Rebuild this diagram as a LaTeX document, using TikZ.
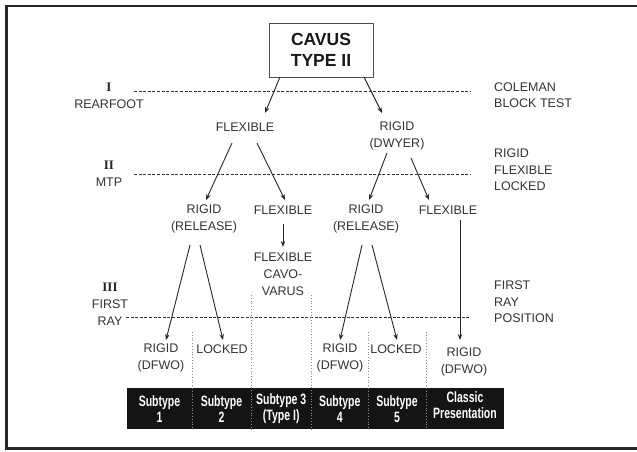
\documentclass[tikz,border=0pt]{standalone}
\usepackage{fontspec}
\setmainfont{Liberation Sans}
\newfontfamily\romfont{Liberation Serif}
\newfontfamily\condfont[FakeStretch=0.7]{Liberation Sans}
\usetikzlibrary{calc,arrows.meta}
\tikzset{
  lbl/.style={inner sep=0pt, align=center, text=black!80, font=\fontsize{12.5}{17}\selectfont},
  rlbl/.style={inner sep=0pt, align=left, anchor=west, text=black!80, font=\fontsize{12.5}{16.5}\selectfont},
  numl/.style={inner sep=0pt, text=black!85, font=\romfont\bfseries\fontsize{13}{15}\selectfont},
  arr/.style={draw=black!85, line width=0.9pt, -{Stealth[length=6pt,width=4.5pt]}},
  dline/.style={draw=black!80, line width=0.9pt, dash pattern=on 3pt off 1.6pt},
  divline/.style={draw=black!45, line width=0.8pt, dotted},
  cell/.style={inner sep=0pt, align=center, text=white, font=\condfont\bfseries\fontsize{15}{16}\selectfont},
  mainbox/.style={draw=black!70, line width=0.8pt, minimum width=104pt, minimum height=54pt, inner sep=0pt, align=center, font=\bfseries\fontsize{17.5}{21}\selectfont, text=black!90}
}
\begin{document}
\begin{tikzpicture}[x=1pt,y=-1pt]
\useasboundingbox (0,0) rectangle (637,451);
% frame
\draw[line width=2.4pt, black!85] (637,6) -- (6.5,6) -- (6.5,448.5) -- (637,448.5);

% dashed level lines
\draw[dline] (134,91) -- (470,91);
\draw[dline] (134,174) -- (470,174);
\draw[dline] (126,317) -- (470,317);

% level labels (left)
\node[numl] (nI) at (109,87) {I};
\node[lbl] (lRear) at (109,104) {REARFOOT};
\node[numl] (nII) at (109,165) {II};
\node[lbl] (lMtp) at (109,182) {MTP};
\node[numl] (nIII) at (110,287) {III};
\node[lbl] (lFirst) at (110,312.5) {FIRST\\RAY};

% right labels
\node[rlbl] (rCol) at (494,95) {COLEMAN\\BLOCK TEST};
\node[rlbl] (rRfl) at (494,170) {RIGID\\FLEXIBLE\\LOCKED};
\node[rlbl] (rFrp) at (494,302) {FIRST\\RAY\\POSITION};

% main box
\node[mainbox, fill=white] (box) at (321,50) {CAVUS\\TYPE II};

% tree nodes
\node[lbl] (flexA) at (245,127) {FLEXIBLE};
\node[lbl] (rigD) at (397,136) {RIGID\\(DWYER)};
\node[lbl] (relL) at (204,219) {RIGID\\(RELEASE)};
\node[lbl] (flexB) at (283,210) {FLEXIBLE};
\node[lbl] (relR) at (366,219) {RIGID\\(RELEASE)};
\node[lbl] (flexC) at (448,210) {FLEXIBLE};
\node[lbl] (cavo) at (283,274) {FLEXIBLE\\CAVO-\\VARUS};
\node[lbl] (dfwoA) at (161,357.5) {RIGID\\(DFWO)};
\node[lbl] (lockA) at (222,349) {LOCKED};
\node[lbl] (dfwoB) at (340,357.5) {RIGID\\(DFWO)};
\node[lbl] (lockB) at (396,349) {LOCKED};
\node[lbl] (dfwoC) at (464,362) {RIGID\\(DFWO)};

% arrows
\draw[arr] ($(box)+(-41,27)$) -- ($(flexA)+(20,-14)$);
\draw[arr] ($(box)+(43,27)$) -- ($(rigD)+(-15,-23)$);
\draw[arr] ($(flexA)+(-13,16)$) -- ($(relL)+(2,-19)$);
\draw[arr] ($(flexA)+(12,16)$) -- ($(flexB)+(2,-10)$);
\draw[arr] ($(rigD)+(-10,17)$) -- ($(relR)+(3,-19)$);
\draw[arr] ($(rigD)+(14,22)$) -- ($(flexC)+(-19,-10)$);
\draw[arr] ($(flexB)+(0,14)$) -- ($(cavo)+(0,-27)$);
\draw[arr] ($(relL)+(-14,26)$) -- ($(dfwoA)+(5,-17.5)$);
\draw[arr] ($(relL)+(-4,26)$) -- ($(lockA)+(1,-9)$);
\draw[arr] ($(relR)+(-4,26)$) -- ($(dfwoB)+(0,-17.5)$);
\draw[arr] ($(relR)+(6,26)$) -- ($(lockB)+(1,-9)$);
\draw[arr] ($(flexC)+(12,10)$) -- ($(dfwoC)+(-4,-22)$);

% bottom bar
\fill[black!92] (127,388) rectangle (504,429);
\draw[divline] (192,332) -- (192,430);
\draw[divline] (251,295) -- (251,430);
\draw[divline] (311.5,295) -- (311.5,430);
\draw[divline] (368,332) -- (368,430);
\draw[divline] (426,332) -- (426,430);

\node[cell] (c1) at (159.5,409) {Subtype\\1};
\node[cell] (c2) at (221.5,409) {Subtype\\2};
\node[cell] (c3) at (281.25,409) {Subtype 3\\(Type I)};
\node[cell] (c4) at (339.75,409) {Subtype\\4};
\node[cell] (c5) at (397,409) {Subtype\\5};
\node[cell] (c6) at (465,405) {Classic\\Presentation};
\end{tikzpicture}
\end{document}
